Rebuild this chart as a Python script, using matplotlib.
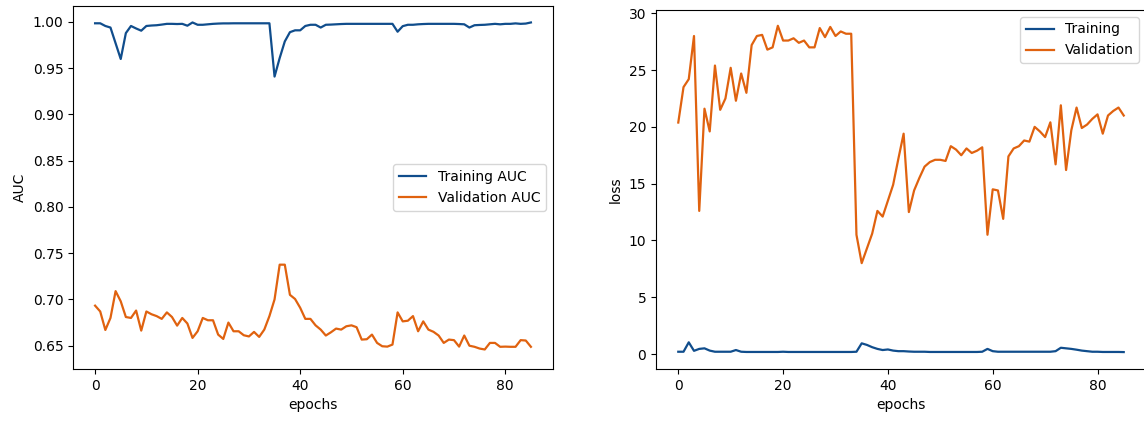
import matplotlib
matplotlib.use("Agg")
import matplotlib.pyplot as plt
import numpy as np

train_auc = [0.9986, 0.9986, 0.9957, 0.994, 0.977, 0.960, 0.988, 0.9957, 0.993, 0.9906,
             0.9957, 0.9962, 0.9965, 0.9972, 0.998, 0.998, 0.9978, 0.998, 0.996, 0.9995,
             0.997, 0.997, 0.9975, 0.998, 0.9983, 0.9985, 0.9985, 0.9986, 0.9986, 0.9986,
             0.9986, 0.9986, 0.9986, 0.9986, 0.9986, 0.941, 0.961, 0.979, 0.989, 0.991,
             0.991, 0.9957, 0.997, 0.997, 0.994, 0.997, 0.9972, 0.9975, 0.9978, 0.998,
             0.998, 0.998, 0.998, 0.998, 0.998, 0.998, 0.998, 0.998, 0.998, 0.9895,
             0.9955, 0.997, 0.997, 0.9975, 0.9978, 0.998, 0.998, 0.998, 0.998, 0.998,
             0.998, 0.9978, 0.9975, 0.994, 0.9965, 0.9968, 0.997, 0.9975, 0.998, 0.9975,
             0.998, 0.998, 0.9985, 0.998, 0.9983, 0.9995]

val_auc = [0.6933, 0.687, 0.667, 0.680, 0.709, 0.698, 0.681, 0.680, 0.688, 0.6663,
           0.687, 0.684, 0.682, 0.679, 0.686, 0.681, 0.6717, 0.680, 0.674, 0.6584,
           0.6656, 0.680, 0.6775, 0.6775, 0.662, 0.6573, 0.675, 0.6656, 0.6656, 0.6613,
           0.660, 0.6649, 0.6595, 0.6674, 0.682, 0.700, 0.7376, 0.7376, 0.705, 0.7005,
           0.691, 0.679, 0.679, 0.672, 0.6674, 0.661, 0.6645, 0.6685, 0.6674, 0.671,
           0.672, 0.670, 0.6566, 0.657, 0.662, 0.653, 0.6494, 0.649, 0.6512, 0.686,
           0.6763, 0.677, 0.682, 0.6656, 0.6763, 0.6674, 0.665, 0.661, 0.653, 0.6566,
           0.656, 0.649, 0.661, 0.650, 0.6488, 0.6469, 0.6459, 0.653, 0.653, 0.6488,
           0.649, 0.6488, 0.6488, 0.656, 0.6556, 0.6488]

train_loss = [0.2, 0.2, 1.03, 0.28, 0.45, 0.5, 0.3, 0.2, 0.2, 0.2,
              0.2, 0.35, 0.2, 0.18, 0.18, 0.18, 0.18, 0.18, 0.18, 0.18,
              0.2, 0.18, 0.18, 0.18, 0.18, 0.18, 0.18, 0.18, 0.18, 0.18,
              0.18, 0.18, 0.18, 0.18, 0.2, 0.94, 0.8, 0.6, 0.45, 0.35,
              0.4, 0.3, 0.25, 0.25, 0.22, 0.2, 0.2, 0.2, 0.18, 0.18,
              0.18, 0.18, 0.18, 0.18, 0.18, 0.18, 0.18, 0.18, 0.2, 0.45,
              0.25, 0.2, 0.2, 0.2, 0.2, 0.2, 0.2, 0.2, 0.2, 0.2,
              0.2, 0.2, 0.25, 0.55, 0.5, 0.45, 0.38, 0.3, 0.25, 0.2,
              0.2, 0.18, 0.18, 0.18, 0.18, 0.17]

val_loss = [20.38, 23.5, 24.2, 28.0, 12.6, 21.6, 19.6, 25.4, 21.5, 22.5,
            25.2, 22.3, 24.7, 23.0, 27.2, 28.0, 28.1, 26.8, 27.0, 28.9,
            27.6, 27.6, 27.8, 27.4, 27.6, 27.0, 27.0, 28.7, 27.9, 28.8,
            28.0, 28.4, 28.2, 28.2, 10.5, 8.0, 9.3, 10.6, 12.6, 12.1,
            13.5, 14.9, 17.2, 19.4, 12.5, 14.4, 15.5, 16.5, 16.9, 17.1,
            17.1, 17.0, 18.3, 18.0, 17.5, 18.1, 17.7, 17.9, 18.2, 10.5,
            14.5, 14.4, 11.9, 17.4, 18.1, 18.3, 18.8, 18.7, 20.0, 19.6,
            19.1, 20.4, 16.7, 21.9, 16.2, 19.7, 21.7, 19.9, 20.2, 20.7,
            21.1, 19.4, 21.0, 21.4, 21.7, 21.0]

epochs = np.arange(len(train_auc))

c_train = '#104d8c'
c_val = '#e0620f'

fig = plt.figure(figsize=(11.44, 4.28), dpi=100)
ax1 = fig.add_axes([73.3/1144, 59/428, 479.4/1144, 363/428])
ax2 = fig.add_axes([656/1144, 59/428, 490/1144, 359/428])

ax1.plot(epochs, train_auc, color=c_train, lw=1.6, label='Training AUC')
ax1.plot(epochs, val_auc, color=c_val, lw=1.6, label='Validation AUC')
ax1.set_xlabel('epochs')
ax1.set_ylabel('AUC')
ax1.set_xticks([0, 20, 40, 60, 80])
ax1.set_yticks([0.65, 0.70, 0.75, 0.80, 0.85, 0.90, 0.95, 1.00])
ax1.set_ylim(0.6248, 1.0173)
ax1.legend(loc='center right')

ax2.plot(epochs, train_loss, color=c_train, lw=1.6, label='Training')
ax2.plot(epochs, val_loss, color=c_val, lw=1.6, label='Validation')
ax2.set_xlabel('epochs')
ax2.set_ylabel('loss')
ax2.set_xticks([0, 20, 40, 60, 80])
ax2.set_yticks([0, 5, 10, 15, 20, 25, 30])
ax2.set_ylim(-1.32, 30.29)
ax2.legend(loc='upper right', bbox_to_anchor=(1.0, 1.0), bbox_transform=ax2.transAxes)

fig.savefig('out.png', dpi=100)
